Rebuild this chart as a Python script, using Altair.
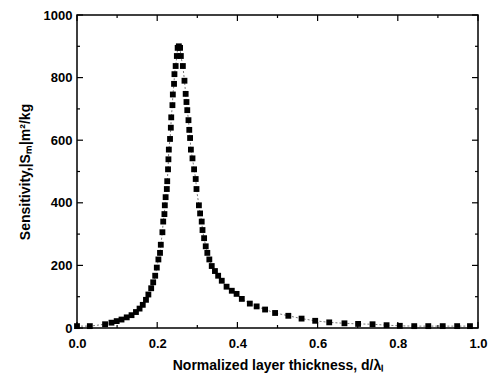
import altair as alt
import pandas as pd

# Data
d_vals = [0.0, 0.032, 0.070, 0.086, 0.099, 0.111, 0.124, 0.136, 0.147, 0.156, 0.164,
          0.172, 0.178, 0.185, 0.190, 0.195, 0.199, 0.203, 0.207, 0.209, 0.213,
          0.215, 0.218, 0.219, 0.221, 0.224, 0.225, 0.227, 0.228, 0.229, 0.232,
          0.234, 0.235, 0.238, 0.239, 0.242, 0.243, 0.246, 0.249, 0.251, 0.254,
          0.257, 0.259, 0.264, 0.268, 0.271, 0.273, 0.275, 0.278, 0.280, 0.282,
          0.284, 0.288, 0.292, 0.296, 0.298, 0.304, 0.307, 0.311, 0.313, 0.317,
          0.321, 0.325, 0.330, 0.336, 0.344, 0.352, 0.361, 0.373, 0.386, 0.398,
          0.411, 0.431, 0.448, 0.469, 0.494, 0.527, 0.560, 0.594, 0.629, 0.667,
          0.701, 0.737, 0.772, 0.805, 0.841, 0.876, 0.912, 0.948, 0.980]
s_vals = [6, 6, 12, 17, 22, 27, 34, 41, 51, 62, 74,
          90, 107, 127, 146, 167, 193, 219, 240, 266, 306,
          340, 364, 392, 418, 444, 469, 507, 539, 570, 604,
          640, 673, 712, 746, 780, 811, 837, 869, 895, 900,
          895, 869, 837, 790, 748, 722, 696, 664, 633, 607,
          570, 542, 507, 476, 444, 392, 366, 340, 313, 287,
          261, 240, 219, 198, 182, 167, 151, 132, 119, 109,
          93, 78, 69, 59, 48, 39, 30, 23, 18, 15,
          13, 12, 9, 7, 6, 6, 6, 6, 6]

x_major = [0.0, 0.2, 0.4, 0.6, 0.8, 1.0]
x_minor = [0.1, 0.3, 0.5, 0.7, 0.9]
y_major = [0, 200, 400, 600, 800, 1000]
y_minor = [100, 300, 500, 700, 900]

df = pd.DataFrame({"d": d_vals, "s": s_vals})

XMAX, YMAX = 1.0, 1000
W, H = 401, 313
xs = alt.Scale(domain=[0, XMAX], nice=False, zero=False, padding=0)
ys = alt.Scale(domain=[0, YMAX], nice=False, padding=0)

FONT = "Liberation Sans"
X_TITLE = "Normalized layer thickness, d/λₗ"
Y_TITLE = "Sensitivity,|Sₘ|m²/kg"

x_axis = alt.Axis(values=x_major, format=".1f", ticks=False, grid=False,
                  labelFlush=False, labelPadding=9, titlePadding=8, domain=False)
y_axis = alt.Axis(values=y_major, format="d", ticks=False, grid=False,
                  labelFlush=False, labelPadding=5, titlePadding=11, domain=False)

# inward ticks on all four sides
rows = []
for v, ln in [(v, 6) for v in x_major] + [(v, 3) for v in x_minor]:
    dy = ln / H * YMAX
    rows.append({"d": v, "d2": v, "s": 0, "s2": dy})
    rows.append({"d": v, "d2": v, "s": YMAX, "s2": YMAX - dy})
for v, ln in [(v, 6) for v in y_major] + [(v, 3) for v in y_minor]:
    dx = ln / W * XMAX
    rows.append({"d": 0, "d2": dx, "s": v, "s2": v})
    rows.append({"d": XMAX, "d2": XMAX - dx, "s": v, "s2": v})
ticks_df = pd.DataFrame(rows)

ticks = alt.Chart(ticks_df).mark_rule(color="black", strokeWidth=1.2).encode(
    x=alt.X("d:Q", scale=xs, title=X_TITLE, axis=x_axis),
    x2="d2:Q",
    y=alt.Y("s:Q", scale=ys, title=Y_TITLE, axis=y_axis),
    y2="s2:Q",
)

line = alt.Chart(df).mark_line(color="#555555", strokeWidth=0.8, strokeDash=[2, 2]).encode(
    x=alt.X("d:Q", scale=xs, title=X_TITLE, axis=x_axis),
    y=alt.Y("s:Q", scale=ys, title=Y_TITLE, axis=y_axis),
)

pts = alt.Chart(df).mark_square(color="black", size=34, opacity=1, clip=False).encode(
    x=alt.X("d:Q", scale=xs, title=X_TITLE, axis=x_axis),
    y=alt.Y("s:Q", scale=ys, title=Y_TITLE, axis=y_axis),
)

chart = alt.layer(ticks, line, pts).properties(
    width=W, height=H,
    autosize="none",
    padding={"left": 69, "top": 7, "right": 10, "bottom": 48},
).configure_view(
    stroke="black", strokeWidth=1.5
).configure_axis(
    labelFont=FONT, labelFontWeight="bold", labelFontSize=13, labelColor="black",
    titleFont=FONT, titleFontWeight="bold", titleFontSize=14, titleColor="black",
)

chart.save("out.html", embed_options={"renderer": "svg", "actions": False})
